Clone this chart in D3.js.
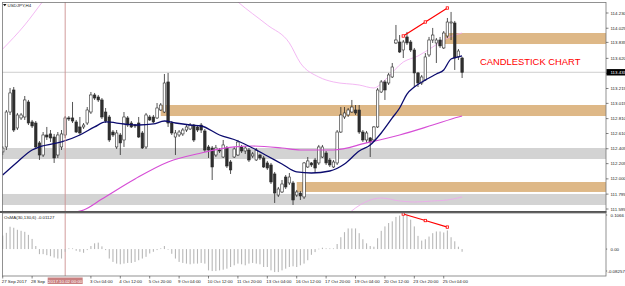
<!DOCTYPE html>
<html><head><meta charset="utf-8">
<script src="https://cdn.jsdelivr.net/npm/d3@7"></script>
<style>html,body{margin:0;padding:0;background:#fff;}svg{display:block;}</style>
</head><body><svg id="c" width="625" height="286"></svg>
<script>
// ---------- DATA ----------
const openP = [112.362,112.429,112.899,113.195,112.684,112.819,112.832,113.034,112.765,112.751,
112.483,112.321,112.590,112.604,112.563,112.321,112.429,112.590,112.819,112.819,
112.765,112.698,112.698,112.751,112.899,113.128,113.101,113.061,112.899,112.832,
112.630,112.429,112.590,112.523,112.819,112.751,112.724,112.751,112.617,112.429,
112.832,112.832,112.819,112.926,112.899,113.303,112.751,112.563,112.590,112.604,
112.657,112.671,112.724,112.698,112.724,112.644,112.429,112.415,112.321,112.388,
112.294,112.415,112.227,112.294,112.321,112.429,112.375,112.388,112.308,112.254,
112.321,112.281,112.214,112.187,112.066,111.783,111.824,112.025,111.945,111.945,
111.783,111.810,111.757,112.160,112.214,112.254,112.214,112.294,112.348,112.254,
112.160,112.214,112.630,112.832,112.859,112.899,112.926,112.926,112.630,112.523,
112.550,112.523,112.698,113.168,113.303,113.289,113.370,113.827,113.840,113.733,
113.908,113.840,113.733,113.424,113.289,113.329,113.666,113.867,113.827,113.867,
113.760,113.921,114.096,114.096,113.639,113.625];
const highP = [112.442,112.926,113.222,113.235,112.886,112.886,113.114,113.061,112.792,112.778,
112.509,112.630,112.698,112.657,112.604,112.630,112.657,112.845,112.845,113.034,
112.792,112.832,112.751,112.966,113.168,113.155,113.128,113.087,112.953,112.859,
112.657,112.657,112.617,112.899,112.845,112.778,112.738,112.832,112.644,112.886,
112.859,112.859,113.020,113.020,113.410,113.424,112.778,112.657,112.657,112.684,
112.724,112.751,112.738,112.724,112.751,112.671,112.456,112.442,112.456,112.415,
112.523,112.442,112.254,112.429,112.523,112.456,112.442,112.415,112.362,112.415,
112.335,112.308,112.241,112.214,112.093,111.891,111.985,112.052,112.079,111.972,
111.851,111.837,112.227,112.294,112.227,112.281,112.456,112.456,112.375,112.281,
112.254,112.657,112.966,112.966,112.953,113.061,112.993,112.993,112.657,112.644,
112.563,112.711,113.222,113.329,113.329,113.424,113.558,114.069,113.934,113.867,
113.975,113.867,113.760,113.437,113.397,113.692,113.908,114.029,113.894,113.908,
113.988,114.163,114.244,114.123,113.746,113.639];
const lowP = [112.321,112.388,112.859,112.630,112.657,112.792,112.792,112.724,112.684,112.402,
112.254,112.294,112.523,112.496,112.214,112.281,112.388,112.550,112.778,112.751,
112.617,112.590,112.671,112.724,112.872,113.061,113.034,112.805,112.751,112.496,
112.563,112.402,112.321,112.429,112.698,112.684,112.684,112.550,112.402,112.402,
112.778,112.751,112.805,112.913,112.886,112.698,112.590,112.321,112.563,112.577,
112.630,112.657,112.496,112.630,112.617,112.362,112.281,111.985,112.294,112.348,
112.281,112.146,112.066,112.281,112.308,112.348,112.335,112.227,112.281,112.241,
112.254,112.146,112.120,111.931,111.676,111.757,111.810,111.864,111.918,111.649,
111.757,111.716,111.730,112.146,112.160,112.079,112.187,112.281,112.187,112.160,
112.146,112.187,112.617,112.805,112.832,112.886,112.859,112.604,112.496,112.483,
112.294,112.496,112.684,113.155,113.061,113.262,113.356,113.813,113.692,113.625,
113.800,113.706,113.235,113.235,113.262,113.316,113.639,113.827,113.558,113.760,
113.746,113.894,113.867,113.464,113.598,113.356];
const closeP = [112.415,112.899,113.155,112.657,112.859,112.859,113.061,112.751,112.711,112.429,
112.321,112.590,112.563,112.550,112.281,112.590,112.604,112.819,112.805,112.778,
112.630,112.617,112.724,112.926,113.128,113.087,113.061,112.832,112.778,112.523,
112.590,112.617,112.483,112.832,112.724,112.698,112.711,112.563,112.415,112.859,
112.792,112.765,112.953,112.993,113.289,112.751,112.617,112.617,112.630,112.657,
112.698,112.724,112.523,112.657,112.657,112.388,112.388,112.160,112.415,112.375,
112.456,112.173,112.120,112.402,112.496,112.375,112.415,112.254,112.335,112.388,
112.281,112.160,112.146,111.958,111.810,111.864,111.931,111.891,112.025,111.716,
111.824,111.770,112.214,112.241,112.187,112.146,112.429,112.429,112.214,112.187,
112.227,112.630,112.859,112.886,112.926,112.966,112.886,112.630,112.523,112.617,
112.496,112.698,113.195,113.303,113.195,113.397,113.504,113.867,113.706,113.840,
113.827,113.733,113.424,113.289,113.370,113.639,113.867,113.934,113.867,113.787,
113.961,114.109,114.109,113.625,113.719,113.433];
const osma = [0.040,0.048,0.066,0.063,0.057,0.054,0.051,0.042,0.030,0.009,
-0.015,-0.015,-0.018,-0.021,-0.025,-0.028,-0.028,-0.008,0.002,0.002,
-0.005,-0.008,-0.011,-0.003,0.009,0.017,0.019,0.008,-0.003,-0.028,
-0.038,-0.043,-0.045,-0.043,-0.041,-0.041,-0.038,-0.033,-0.028,-0.023,
-0.013,-0.008,-0.003,0.002,0.009,-0.001,-0.014,-0.028,-0.038,-0.041,
-0.043,-0.045,-0.043,-0.043,-0.041,-0.043,-0.063,-0.065,-0.065,-0.063,
-0.061,-0.058,-0.053,-0.048,-0.043,-0.045,-0.048,-0.043,-0.041,-0.043,
-0.045,-0.053,-0.053,-0.063,-0.068,-0.068,-0.063,-0.058,-0.053,-0.051,
-0.053,-0.048,-0.043,-0.033,-0.017,-0.009,0.001,0.004,0.002,0.002,
0.002,0.015,0.035,0.050,0.061,0.061,0.061,0.047,0.029,0.017,
0.009,0.007,0.032,0.054,0.067,0.077,0.082,0.095,0.099,0.105,
0.102,0.087,0.067,0.039,0.025,0.029,0.037,0.047,0.052,0.052,
0.049,0.055,0.035,0.023,0.007,-0.008];

const navyBars = [0,4,8,10,16,21,25,28,33,37,41,44,47,51,54,59,64,68,72,76,80,84,89,93,97,100,103,106,108,110,112,115,118,120,122,124,125];
const navyVals = [112.052,112.227,112.388,112.429,112.496,112.590,112.698,112.765,112.738,112.724,112.738,112.778,112.751,112.724,112.711,112.590,112.509,112.415,112.308,112.200,112.093,112.079,112.106,112.200,112.375,112.456,112.617,112.819,112.953,113.141,113.235,113.329,113.410,113.464,113.612,113.639,113.652];
const maBars = [20,22,27,36,45,54,63,68,76,81,90,99,108,117,124,125];
const maVals = [111.555,111.582,111.730,111.999,112.227,112.348,112.429,112.442,112.415,112.388,112.388,112.483,112.590,112.724,112.832,112.845];
const upBars = [0,6,11,20,40,55,64,72,78,81,86,90,97,101,104,109,113,117,121,125];
const upVals = [113.746,114.069,114.392,114.943,115.212,114.808,114.378,114.069,113.827,113.558,113.370,113.303,113.262,113.222,113.329,113.571,113.652,113.773,113.894,113.961];
const loBars = [94,96,101,103,108,112,117,121,125];
const loVals = [111.528,111.609,111.730,111.743,111.703,111.689,111.703,111.716,111.757];

const zoneStart = [120,43,-5,80,-5];
const zoneTop = [113.961,112.993,112.415,111.958,111.797];
const zoneBot = [113.813,112.845,112.267,111.824,111.649];
const zoneKind = ["res","res","sup","res","sup"];

const trendBars = [109,115,121];
const trendPrice = [113.921,114.109,114.297];
const trendOsma = [0.1036,0.0843,0.065];

const priceTicks = [114.230,114.025,113.835,113.620,113.420,113.215,113.015,112.810,112.610,112.405,112.205,112.000,111.795,111.595];
const osmaTicks = [0.1066,0.00,-0.08257];
const osmaTickText = ["0.1066","0.00","-0.08257"];
const xLabelBars = [0,8,24,32,40,48,56,64,72,80,88,96,104,112,120];
const xLabelText = ["27 Sep 2017","28 Sep","3 Oct 04:00","4 Oct 12:00","5 Oct 20:00","9 Oct 04:00","10 Oct 12:00","11 Oct 20:00","13 Oct 04:00","16 Oct 12:00","17 Oct 20:00","19 Oct 04:00","20 Oct 12:00","23 Oct 20:00","25 Oct 04:00"];
const crossBar = 17;
const crossText = "2017.10.02 00:00";
const symbolText = "USDJPY,H4";
const osmaTitle = "OsMA(30,130,6) -0.01127";
const noteText = "CANDLESTICK CHART";

// ---------- LAYOUT ----------
const L=2, R=606, T=2, MB=211, IT=213, IB=276;
const FONT = "'Liberation Sans', Arial, sans-serif";
const FS = 4.4;
const svg = d3.select("#c");
const N = openP.length;
const x = d3.scaleLinear().domain([0, N-1]).range([2.7, 462.1]);
const y = d3.scaleLinear().domain([111.595, 114.230]).range([209, 13]);
const yi = d3.scaleLinear().domain([-0.08257, 0.1066]).range([277, 213]);

const defs = svg.append("defs");
defs.append("clipPath").attr("id","cm").append("rect").attr("x",L).attr("y",T).attr("width",R-L).attr("height",MB-T);
defs.append("clipPath").attr("id","ci").append("rect").attr("x",L).attr("y",IT).attr("width",R-L).attr("height",IB-IT);

svg.append("rect").attr("width",625).attr("height",286).attr("fill","#fff");

const gM = svg.append("g").attr("clip-path","url(#cm)");
gM.selectAll("rect.zone").data(d3.range(zoneStart.length)).join("rect")
  .attr("x", i => Math.max(L, x(zoneStart[i])))
  .attr("width", i => R - Math.max(L, x(zoneStart[i])))
  .attr("y", i => y(zoneTop[i]))
  .attr("height", i => y(zoneBot[i]) - y(zoneTop[i]))
  .attr("fill", i => zoneKind[i] === "res" ? "#deb887" : "#d3d3d3");

const last = closeP[N-1];
gM.append("line").attr("x1",L).attr("x2",R).attr("y1",y(last)).attr("y2",y(last))
  .attr("stroke","#c8c8c8").attr("stroke-width",0.9);

svg.append("line").attr("x1",x(crossBar)).attr("x2",x(crossBar)).attr("y1",T).attr("y2",IB)
  .attr("stroke","#cc9090").attr("stroke-width",0.9);

const lineGen = (bars, vals, sc) => d3.line().x((d,i)=>x(bars[i])).y((d,i)=>sc(vals[i])).curve(d3.curveMonotoneX)(vals);
gM.append("path").attr("d", lineGen(upBars, upVals, y)).attr("fill","none").attr("stroke","#f0a6f0").attr("stroke-width",0.8);
gM.append("path").attr("d", lineGen(loBars, loVals, y)).attr("fill","none").attr("stroke","#f0a6f0").attr("stroke-width",0.8);

const idx = d3.range(N);
gM.selectAll("line.wick").data(idx).join("line").attr("class","wick")
  .attr("x1", i => x(i)).attr("x2", i => x(i))
  .attr("y1", i => y(highP[i])).attr("y2", i => y(lowP[i]))
  .attr("stroke","#2a2a2a").attr("stroke-width",0.8);
gM.selectAll("rect.body").data(idx).join("rect").attr("class","body")
  .attr("x", i => x(i) - 1.25).attr("width", 2.5)
  .attr("y", i => y(Math.max(openP[i], closeP[i])))
  .attr("height", i => Math.max(0.7, Math.abs(y(openP[i]) - y(closeP[i]))))
  .attr("fill", i => closeP[i] >= openP[i] ? "#ffffff" : "#2e2e2e")
  .attr("stroke","#2a2a2a").attr("stroke-width",0.6);

gM.append("path").attr("d", lineGen(maBars, maVals, y)).attr("fill","none").attr("stroke","#d64ed6").attr("stroke-width",1.2);
gM.append("path").attr("d", lineGen(navyBars, navyVals, y)).attr("fill","none").attr("stroke","#0b0b6e").attr("stroke-width",1.3);

const tl = d3.line().x((d,i)=>x(trendBars[i])).y((d,i)=>y(trendPrice[i]));
gM.append("path").attr("d", tl(trendPrice)).attr("fill","none").attr("stroke","#ff0000").attr("stroke-width",1.2);
gM.selectAll("rect.tm").data(d3.range(3)).join("rect").attr("class","tm")
  .attr("x", i => x(trendBars[i]) - 1.2).attr("y", i => y(trendPrice[i]) - 1.2)
  .attr("width",2.4).attr("height",2.4).attr("fill","#fff").attr("stroke","#ff0000").attr("stroke-width",0.8);

svg.append("text").attr("x",480).attr("y",64.5).attr("font-family",FONT).attr("font-size",9.4)
  .attr("fill","#ff0000").text(noteText);

// ---------- INDICATOR ----------
const gI = svg.append("g").attr("clip-path","url(#ci)");
gI.selectAll("rect.h").data(idx).join("rect").attr("class","h")
  .attr("x", i => x(i) - 0.55).attr("width", 1.1)
  .attr("y", i => Math.min(yi(0), yi(osma[i])))
  .attr("height", i => Math.max(0.6, Math.abs(yi(osma[i]) - yi(0))))
  .attr("fill","#b8b8b8");
const tl2 = d3.line().x((d,i)=>x(trendBars[i])).y((d,i)=>yi(trendOsma[i]));
gI.append("path").attr("d", tl2(trendOsma)).attr("fill","none").attr("stroke","#ff0000").attr("stroke-width",1.2);
gI.selectAll("rect.tm2").data(d3.range(3)).join("rect").attr("class","tm2")
  .attr("x", i => x(trendBars[i]) - 1.2).attr("y", i => yi(trendOsma[i]) - 1.2)
  .attr("width",2.4).attr("height",2.4).attr("fill","#fff").attr("stroke","#ff0000").attr("stroke-width",0.8);

// ---------- FRAMES ----------
svg.append("rect").attr("x",L+0.5).attr("y",T+0.5).attr("width",R-L-0.5).attr("height",MB-T)
  .attr("fill","none").attr("stroke","#777").attr("stroke-width",0.8);
svg.append("rect").attr("x",0).attr("y",MB).attr("width",R+0.5).attr("height",2).attr("fill","#555");
svg.append("rect").attr("x",L+0.5).attr("y",IT).attr("width",R-L-0.5).attr("height",IB-IT)
  .attr("fill","none").attr("stroke","#777").attr("stroke-width",0.8);

// ---------- AXES TEXT ----------
const gA = svg.append("g").attr("font-family",FONT).attr("font-size",FS).attr("fill","#222");
priceTicks.forEach(v => {
  gA.append("line").attr("x1",R).attr("x2",R+2.5).attr("y1",y(v)).attr("y2",y(v)).attr("stroke","#333").attr("stroke-width",0.6);
  gA.append("text").attr("x",R+4.5).attr("y",y(v)+1.5).text(d3.format(".3f")(v));
});
osmaTicks.forEach((v,i) => {
  const yy = i===0 ? yi(v)+2 : (i===2 ? yi(v)-6 : yi(v));
  gA.append("line").attr("x1",R).attr("x2",R+1.2).attr("y1",yy).attr("y2",yy).attr("stroke","#333").attr("stroke-width",0.6);
  gA.append("text").attr("x", i===2 ? R+1.5 : R+4.5).attr("y",yy+1.5).text(osmaTickText[i]);
});
svg.append("rect").attr("x",R+0.5).attr("y",y(last)-3.2).attr("width",625-R).attr("height",6.4).attr("fill","#000");
svg.append("text").attr("x",R+4.5).attr("y",y(last)+1.5).attr("font-family",FONT).attr("font-size",FS).attr("fill","#fff")
  .text(d3.format(".3f")(last));

xLabelBars.forEach((b,i) => {
  gA.append("line").attr("x1",x(b)).attr("x2",x(b)).attr("y1",IB).attr("y2",IB+2.5).attr("stroke","#333").attr("stroke-width",0.6);
  gA.append("text").attr("x",x(b)-1).attr("y",IB+6.5).text(xLabelText[i]);
});
const cx = x(crossBar);
svg.append("rect").attr("x",cx-17.5).attr("y",IB+1.5).attr("width",35).attr("height",6.5).attr("fill","#c98080");
svg.append("text").attr("x",cx).attr("y",IB+6.5).attr("text-anchor","middle").attr("font-family",FONT)
  .attr("font-size",FS).attr("fill","#fff").text(crossText);

svg.append("path").attr("d","M3,4 L6.5,4 L4.75,6.3 Z").attr("fill","#111");
svg.append("text").attr("x",7.5).attr("y",7).attr("font-family",FONT).attr("font-size",FS).attr("fill","#222").text(symbolText);
svg.append("text").attr("x",4).attr("y",IT+5.5).attr("font-family",FONT).attr("font-size",FS).attr("fill","#222").text(osmaTitle);
</script>
</body></html>
